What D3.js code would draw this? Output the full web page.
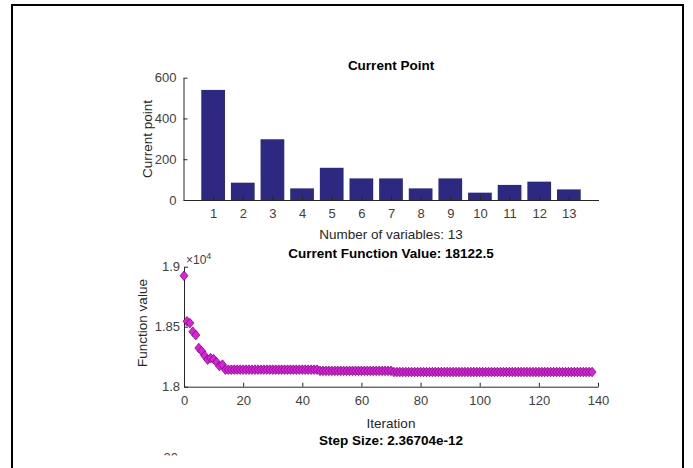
<!DOCTYPE html>
<html>
<head>
<meta charset="utf-8">
<script src="https://cdn.jsdelivr.net/npm/d3@7"></script>
<style>
    body { margin: 0; background: #fff; }
    svg { display: block; font-family: "Liberation Sans", Arial, sans-serif; }
    .tick text { fill: #404040; font-size: 13px; }
    .domain, .tick line { stroke: #262626; }
    .lbl { fill: #262626; font-size: 13.5px; }
    .ttl { fill: #000; font-size: 13.5px; font-weight: bold; }
</style>
</head>
<body>
<div id="fig"></div>
<script>
// top panel: current point (bar)
var varIndex = [1, 2, 3, 4, 5, 6, 7, 8, 9, 10, 11, 12, 13];
var pointValues = [540, 85, 298, 57, 158, 106, 106, 57, 106, 36, 74, 90, 52];
var pointTicks = [0, 200, 400, 600];

// bottom panel: function value per iteration (0..138)
var iterations = d3.range(0, 139);
var fvalValues = [
    18925, 18545, 18530, 18458, 18430, 18322, 18296, 18258, 18225, 18238,
    18230, 18204, 18172, 18184, 18142, 18142, 18142, 18142, 18142, 18142,
    18142, 18142, 18142, 18142, 18142, 18142, 18142, 18142, 18142, 18142,
    18142, 18142, 18142, 18142, 18142, 18142, 18142, 18142, 18142, 18142,
    18142, 18142, 18142, 18142, 18142, 18142, 18132, 18132, 18132, 18132,
    18132, 18132, 18132, 18132, 18132, 18132, 18132, 18132, 18132, 18132,
    18132, 18132, 18132, 18132, 18132, 18132, 18132, 18132, 18132, 18132,
    18132, 18122.5, 18122.5, 18122.5, 18122.5, 18122.5, 18122.5, 18122.5, 18122.5, 18122.5,
    18122.5, 18122.5, 18122.5, 18122.5, 18122.5, 18122.5, 18122.5, 18122.5, 18122.5, 18122.5,
    18122.5, 18122.5, 18122.5, 18122.5, 18122.5, 18122.5, 18122.5, 18122.5, 18122.5, 18122.5,
    18122.5, 18122.5, 18122.5, 18122.5, 18122.5, 18122.5, 18122.5, 18122.5, 18122.5, 18122.5,
    18122.5, 18122.5, 18122.5, 18122.5, 18122.5, 18122.5, 18122.5, 18122.5, 18122.5, 18122.5,
    18122.5, 18122.5, 18122.5, 18122.5, 18122.5, 18122.5, 18122.5, 18122.5, 18122.5, 18122.5,
    18122.5, 18122.5, 18122.5, 18122.5, 18122.5, 18122.5, 18122.5, 18122.5, 18122.5
];
var fvalXTicks = [0, 20, 40, 60, 80, 100, 120, 140];
var fvalYTicks = [18000, 18500, 19000];

var width = 693,
    height = 468;

var svg = d3.select("#fig").append("svg")
    .attr("width", width)
    .attr("height", height);

svg.append("rect")
    .attr("width", width)
    .attr("height", height)
    .attr("fill", "#fff");

// window frame (bottom edge is cut off)
svg.append("path")
    .attr("d", "M12,470 L12,5 L683,5 L683,470")
    .attr("fill", "none")
    .attr("stroke", "#000")
    .attr("stroke-width", 2);

// ---------- Current Point ----------
var x1 = d3.scaleLinear().domain([0, 14]).range([183.5, 598.5]);
var y1 = d3.scaleLinear().domain([0, 600]).range([200, 77.7]);
var barW = x1(0.8) - x1(0);

var g1 = svg.append("g");

g1.selectAll("rect.bar")
    .data(pointValues)
    .enter().append("rect")
    .attr("class", "bar")
    .attr("x", function(d, i) { return x1(varIndex[i]) - barW / 2; })
    .attr("y", function(d) { return y1(d); })
    .attr("width", barW)
    .attr("height", function(d) { return y1(0) - y1(d); })
    .attr("fill", "#2d2882");

g1.append("g")
    .attr("transform", "translate(0," + y1(0) + ")")
    .call(d3.axisBottom(x1).tickValues(varIndex).tickSizeInner(-4).tickSizeOuter(0).tickPadding(9))
    .call(function(a) { a.selectAll(".tick text").attr("dy", "0.71em"); });

g1.append("g")
    .attr("transform", "translate(" + x1(0) + ",0)")
    .call(d3.axisLeft(y1).tickValues(pointTicks).tickSizeInner(-4).tickSizeOuter(0).tickPadding(7));

g1.append("text").attr("class", "ttl")
    .attr("x", 391).attr("y", 70)
    .attr("text-anchor", "middle")
    .text("Current Point");

g1.append("text").attr("class", "lbl")
    .attr("x", 391).attr("y", 239)
    .attr("text-anchor", "middle")
    .text("Number of variables: 13");

g1.append("text").attr("class", "lbl")
    .attr("transform", "translate(152,139) rotate(-90)")
    .attr("text-anchor", "middle")
    .text("Current point");

// ---------- Current Function Value ----------
var x2 = d3.scaleLinear().domain([0, 140]).range([184, 598]);
var y2 = d3.scaleLinear().domain([18000, 19000]).range([386.7, 266.7]);

var g2 = svg.append("g");

g2.append("g")
    .attr("transform", "translate(0," + y2(18000) + ")")
    .call(d3.axisBottom(x2).tickValues(fvalXTicks).tickSizeInner(-4).tickSizeOuter(0).tickPadding(9))
    .call(function(a) { a.selectAll(".tick text").attr("dy", "0.71em"); });

g2.append("g")
    .attr("transform", "translate(" + x2(0) + ",0)")
    .call(d3.axisLeft(y2).tickValues(fvalYTicks).tickSizeInner(-4).tickSizeOuter(0).tickPadding(4)
        .tickFormat(function(d) { return d3.format("")(d / 1e4); }));

// exponent label
var expo = g2.append("text")
    .attr("x", 186).attr("y", 264)
    .attr("fill", "#404040")
    .style("font-size", "12px");
expo.append("tspan").text("\u00d710");
expo.append("tspan").attr("dy", -5).style("font-size", "9px").text("4");

// diamond marker like MATLAB 'd'
var diamond = {
    draw: function(ctx, size) {
        var h = 4.8, w = 4;
        ctx.moveTo(0, -h);
        ctx.lineTo(w, 0);
        ctx.lineTo(0, h);
        ctx.lineTo(-w, 0);
        ctx.closePath();
    }
};

g2.selectAll("path.pt")
    .data(fvalValues)
    .enter().append("path")
    .attr("class", "pt")
    .attr("d", d3.symbol().type(diamond).size(64))
    .attr("transform", function(d, i) {
        return "translate(" + x2(iterations[i]) + "," + y2(d) + ")";
    })
    .attr("fill", "#e01ee0")
    .attr("stroke", "#5a1060")
    .attr("stroke-width", 0.7);

g2.append("text").attr("class", "ttl")
    .attr("x", 391).attr("y", 258)
    .attr("text-anchor", "middle")
    .text("Current Function Value: 18122.5");

g2.append("text").attr("class", "lbl")
    .attr("x", 391).attr("y", 428)
    .attr("text-anchor", "middle")
    .text("Iteration");

g2.append("text").attr("class", "lbl")
    .attr("transform", "translate(147,323) rotate(-90)")
    .attr("text-anchor", "middle")
    .text("Function value");

// ---------- Step Size (cut off) ----------
svg.append("text").attr("class", "ttl")
    .attr("x", 391).attr("y", 445)
    .attr("text-anchor", "middle")
    .text("Step Size: 2.36704e-12");

svg.append("clipPath").attr("id", "cut")
    .append("rect").attr("x", 0).attr("y", 0).attr("width", width).attr("height", 455.5);

svg.append("text")
    .attr("clip-path", "url(#cut)")
    .attr("x", 178).attr("y", 462)
    .attr("text-anchor", "end")
    .attr("fill", "#404040")
    .style("font-size", "13px")
    .text("20");
</script>
</body>
</html>
